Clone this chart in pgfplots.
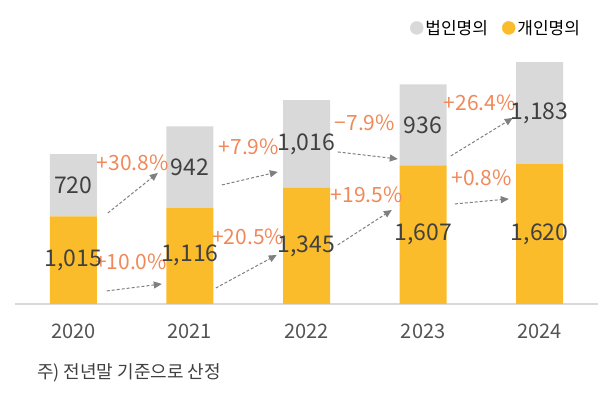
\documentclass[border=0pt]{standalone}
\usepackage{pgfplots}
\pgfplotsset{compat=1.18}
\usepackage{fontspec}
\setmainfont{Noto Sans CJK KR}
\usetikzlibrary{arrows.meta}
\definecolor{bargrey}{HTML}{D9D9D9}
\definecolor{barorange}{HTML}{FBBC2B}
\definecolor{pctcol}{HTML}{F0895A}
\definecolor{txt}{HTML}{404040}
\definecolor{arr}{HTML}{7F7F7F}
\begin{document}
\begin{tikzpicture}
\path[use as bounding box] (0,0) rectangle (610pt,396pt);
\begin{axis}[
  at={(15pt,92pt)}, anchor=south west,
  scale only axis, width=583pt, height=259pt,
  xmin=-0.5, xmax=4.5, ymin=0, ymax=3000,
  axis x line*=bottom, hide y axis,
  axis line style={draw=bargrey, line width=1.5pt},
  xtick={0,1,2,3,4}, xticklabels={2020,2021,2022,2023,2024},
  xtick style={draw=none},
  xticklabel style={font=\fontsize{20}{24}\selectfont, text=txt!90, anchor=center, yshift=-27pt},
  ybar stacked, bar width=47pt,
  /pgf/number format/1000 sep={,},
  /pgf/number format/assume math mode=true,
  clip=false,
  legend style={at={(0.978,1.066)}, anchor=east, draw=none, fill=none,
    legend columns=2, font=\fontsize{17}{20}\selectfont,
    /tikz/every even column/.append style={column sep=12pt}},
  legend cell align=left,
]
\addplot[ybar stacked, fill=barorange, draw=none, forget plot] coordinates {(0,1015) (1,1116) (2,1345) (3,1607) (4,1620)};
\addplot[ybar stacked, fill=bargrey, draw=none, forget plot] coordinates {(0,720) (1,942) (2,1016) (3,936) (4,1183)};

\addlegendimage{legend image code/.code={\fill[bargrey] (0.45cm,0pt) circle (6.5pt);}}
\addlegendentry{법인명의}
\addlegendimage{legend image code/.code={\fill[barorange] (0.45cm,0pt) circle (6.5pt);}}
\addlegendentry{개인명의}
\end{axis}
\begin{axis}[
  at={(15pt,92pt)}, anchor=south west,
  scale only axis, width=583pt, height=259pt,
  xmin=-0.5, xmax=4.5, ymin=0, ymax=3000,
  hide axis, clip=false,
  /pgf/number format/1000 sep={,},
  /pgf/number format/assume math mode=true,
]
\addplot[only marks, mark=none, point meta=explicit,
  nodes near coords, nodes near coords align=center,
  every node near coord/.append style={font=\fontsize{23}{27}\selectfont, text=txt, anchor=center}]
  coordinates {(0,507.5)[1015] (1,558)[1116] (2,672.5)[1345] (3,803.5)[1607] (4,810)[1620]
               (0,1375)[720] (1,1587)[942] (2,1853)[1016] (3,2075)[936] (4,2211.5)[1183]};
\tikzset{myarr/.style={draw=arr, line width=1pt, dash pattern=on 3pt off 2pt, -{Triangle[length=8pt,width=7pt]}}}
\addplot[myarr] coordinates {(0.296,1054) (0.725,1518)};
\addplot[myarr] coordinates {(0.287,151) (0.759,232)};
\addplot[myarr] coordinates {(1.274,1379) (1.754,1530)};
\addplot[myarr] coordinates {(1.222,185) (1.745,568)};
\addplot[myarr] coordinates {(2.268,1761) (2.783,1680)};
\addplot[myarr] coordinates {(2.268,684) (2.732,1089)};
\addplot[myarr] coordinates {(3.238,1715) (3.769,2155)};
\addplot[myarr] coordinates {(3.272,1159) (3.735,1217)};
\tikzset{pct/.style={font=\fontsize{21}{25}\selectfont, text=pctcol, anchor=center}}
\node[pct] at (axis cs:0.510,1634) {+30.8\%};
\node[pct] at (axis cs:0.495,487) {+10.0\%};
\node[pct] at (axis cs:1.505,1819) {+7.9\%};
\node[pct] at (axis cs:1.500,776) {+20.5\%};
\node[pct] at (axis cs:2.500,2097) {−7.9\%};
\node[pct] at (axis cs:2.517,1263) {+19.5\%};
\node[pct] at (axis cs:3.486,2329) {+26.4\%};
\node[pct] at (axis cs:3.503,1460) {+0.8\%};
\end{axis}
\node[anchor=west, font=\fontsize{18}{22}\selectfont, text=txt, inner sep=0pt] at (37pt,23pt) {주) 전년말 기준으로 산정};
\end{tikzpicture}
\end{document}
